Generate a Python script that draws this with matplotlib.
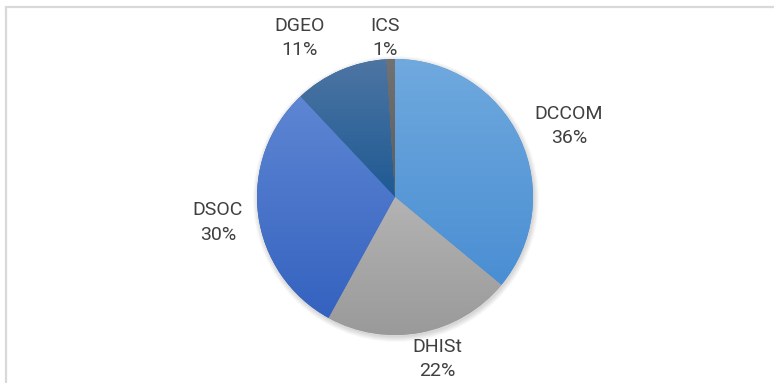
import numpy as np
import matplotlib.pyplot as plt
from matplotlib.colors import to_rgb
from matplotlib.patches import Circle

# Share of staff per department
labels = ['DCCOM', 'DHISt', 'DSOC', 'DGEO', 'ICS']
values = [36, 22, 30, 11, 1]

# Vertical gradient per slice (top colour, bottom colour)
top_colors = ['#6fa9de', '#b3b3b3', '#5e86d3', '#4d75a3', '#727272']
bottom_colors = ['#4a8ed3', '#9a9a9a', '#3462bf', '#1e5a93', '#5c5c5c']
# Best-fit placement of each data label: distance (in radii) and angular shift
label_radius = [1.362, 1.213, 1.296, 1.342, 1.154]
label_shift = [-3.0, 3.7, 1.0, 7.5, 1.8]

plt.rcParams['font.family'] = ['Roboto', 'DejaVu Sans']

fig = plt.figure(figsize=(7.74, 3.83), dpi=100)
ax = fig.add_axes([0, 0, 1, 1])

cx, cy, R = 395, 186, 138

# soft shadow behind the pie
for i in range(8):
    ax.add_patch(Circle((cx + 1, cy - 2), R + 5 - i * 0.7, facecolor='black',
                        edgecolor='none', alpha=0.018, zorder=0))

wedges, _ = ax.pie(values, startangle=90, counterclock=False, radius=R,
                   center=(cx, cy), colors=bottom_colors,
                   wedgeprops=dict(edgecolor='none', linewidth=0))

for w, c_top, c_bot in zip(wedges, top_colors, bottom_colors):
    w.set_zorder(1)
    t = np.radians(np.linspace(w.theta1, w.theta2, 200))
    ys = np.concatenate([cy + R * np.sin(t), [cy]])
    y0, y1 = ys.min(), ys.max()
    a = np.array(to_rgb(c_bot))
    b = np.array(to_rgb(c_top))
    s = np.linspace(0, 1, 256)[:, None, None]
    grad = a[None, None, :] * (1 - s) + b[None, None, :] * s
    im = ax.imshow(grad, extent=[cx - R, cx + R, y0, y1], origin='lower',
                   aspect='auto', interpolation='bilinear', zorder=2)
    im.set_clip_path(w)

for w, lab, v, f, d in zip(wedges, labels, values, label_radius, label_shift):
    mid = np.radians((w.theta1 + w.theta2) / 2 + d)
    x = cx + f * R * np.cos(mid)
    y = cy + f * R * np.sin(mid)
    ax.text(x, y, f'{lab}\n{v}%', ha='center', va='center', fontsize=14,
            color='#404040', linespacing=1.45, zorder=3)

# chart frame (top and left edges visible)
ax.plot([5.5, 5.5, 774], [0, 376.5, 376.5], color='#d9d9d9', lw=1.6,
        solid_joinstyle='miter', zorder=4)

ax.set_xlim(0, 774)
ax.set_ylim(0, 383)
ax.set_aspect('equal')
ax.axis('off')

fig.savefig('out.png', dpi=100, facecolor='white')
